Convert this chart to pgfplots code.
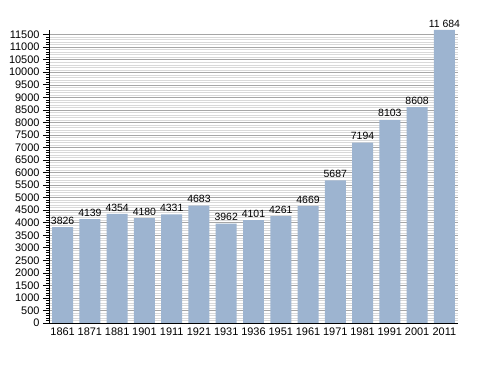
\documentclass[border=0pt]{standalone}
\usepackage{pgfplots}
\pgfplotsset{compat=1.18}
\usepackage{fontspec}
\setmainfont{Liberation Sans}
\definecolor{barblue}{RGB}{157,180,208}
\begin{document}
\begin{tikzpicture}
\path[use as bounding box] (0,0) rectangle (488bp,373bp);
\begin{axis}[
  at={(49bp,50bp)}, anchor=south west,
  scale only axis, width=409bp, height=293bp,
  xmin=-0.5, xmax=14.5, ymin=0, ymax=11684,
  axis lines*=left,
  axis line style={black, line width=0.8pt},
  xtick={0,...,14},
  xticklabels={1861,1871,1881,1901,1911,1921,1931,1936,1951,1961,1971,1981,1991,2001,2011},
  x tick style={draw=none},
  ytick={0,500,...,11500},
  scaled y ticks=false,
  minor y tick num=4,
  y tick style={black, line width=0.6pt},
  major tick length=6bp, minor tick length=3bp,
  ytick align=outside,
  ymajorgrids, yminorgrids,
  major grid style={gray!70, line width=0.5pt},
  minor grid style={gray!30, line width=0.4pt},
  tick label style={font=\fontsize{11}{12}\selectfont},
  xticklabel style={yshift=-1bp},
  /pgf/number format/assume math mode=true,
  /pgf/number format/fixed,
  /pgf/number format/1000 sep={},
  xtick pos=bottom, ytick pos=left,
  every node near coord/.append style={font=\fontsize{10.5}{12}\selectfont, inner sep=2.5bp, black},
  nodes near coords,
  point meta=explicit symbolic,
  clip=false,
]
\addplot[ybar, bar width=0.77, fill=barblue, draw=none] coordinates {
(0,3826) [3826]
(1,4139) [4139]
(2,4354) [4354]
(3,4180) [4180]
(4,4331) [4331]
(5,4683) [4683]
(6,3962) [3962]
(7,4101) [4101]
(8,4261) [4261]
(9,4669) [4669]
(10,5687) [5687]
(11,7194) [7194]
(12,8103) [8103]
(13,8608) [8608]
(14,11684) [11 684]
};
\end{axis}
\end{tikzpicture}
\end{document}
